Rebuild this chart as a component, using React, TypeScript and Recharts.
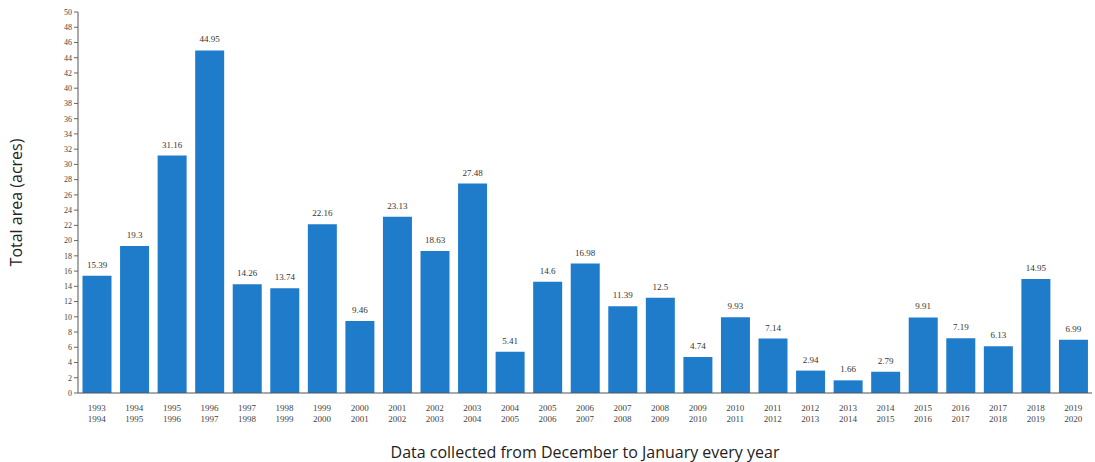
import React from "react";
import { BarChart, Bar, XAxis, YAxis, LabelList, Label } from "recharts";

// Saisons décembre -> janvier, surface totale en acres
const startYears = [
  1993, 1994, 1995, 1996, 1997, 1998, 1999, 2000, 2001, 2002, 2003, 2004, 2005, 2006,
  2007, 2008, 2009, 2010, 2011, 2012, 2013, 2014, 2015, 2016, 2017, 2018, 2019,
];
const areaAcres = [
  15.39, 19.3, 31.16, 44.95, 14.26, 13.74, 22.16, 9.46, 23.13, 18.63, 27.48, 5.41, 14.6,
  16.98, 11.39, 12.5, 4.74, 9.93, 7.14, 2.94, 1.66, 2.79, 9.91, 7.19, 6.13, 14.95, 6.99,
];
const yTicks = [
  0, 2, 4, 6, 8, 10, 12, 14, 16, 18, 20, 22, 24, 26, 28, 30, 32, 34, 36, 38, 40, 42, 44,
  46, 48, 50,
];

const data = startYears.map((y, i) => ({
  season: `${y}-${y + 1}`,
  area: areaAcres[i],
}));

const serif = "'Liberation Serif', 'DejaVu Serif', serif";
const sans = "'Open Sans', 'Noto Sans', sans-serif";

function SeasonTick(props: any) {
  const { x, y, payload } = props;
  const [a, b] = String(payload.value).split("-");
  return (
    <g transform={`translate(${x},${y})`}>
      <text textAnchor="middle" style={{ fontFamily: serif, fontSize: 9 }} fill="#444">
        <tspan x={0} dy={10}>{a}</tspan>
        <tspan x={0} dy={11}>{b}</tspan>
      </text>
    </g>
  );
}

export default function App() {
  return (
    <div style={{ position: "absolute", left: 0, top: 0, width: 1095, height: 462, background: "#fff" }}>
      <BarChart
        width={1095}
        height={462}
        data={data}
        margin={{ top: 12, right: 3, left: 0, bottom: 0 }}
        barCategoryGap="12%"
      >
        <XAxis
          dataKey="season"
          height={69}
          interval={0}
          tick={<SeasonTick />}
          tickLine={false}
          axisLine={{ stroke: "#555" }}
        >
          <Label
            value="Data collected from December to January every year"
            position="insideBottom"
            offset={4}
            style={{ fontFamily: sans, fontSize: 16, fill: "#222" }}
          />
        </XAxis>
        <YAxis
          width={78}
          domain={[0, 50]}
          ticks={yTicks}
          interval={0}
          tick={{ style: { fontFamily: serif, fontSize: 8 }, fill: "#444" }}
          tickSize={4}
          tickLine={{ stroke: "#666" }}
          axisLine={{ stroke: "#555" }}
        >
          <Label
            value="Total area (acres)"
            angle={-90}
            position="insideLeft"
            offset={16}
            style={{ fontFamily: sans, fontSize: 16, fill: "#222", textAnchor: "middle" }}
          />
        </YAxis>
        <Bar dataKey="area" fill="#1f7ccb" isAnimationActive={false}>
          <LabelList
            dataKey="area"
            position="top"
            offset={8}
            style={{ fontFamily: serif, fontSize: 9, fill: "#333" }}
          />
        </Bar>
      </BarChart>
    </div>
  );
}
